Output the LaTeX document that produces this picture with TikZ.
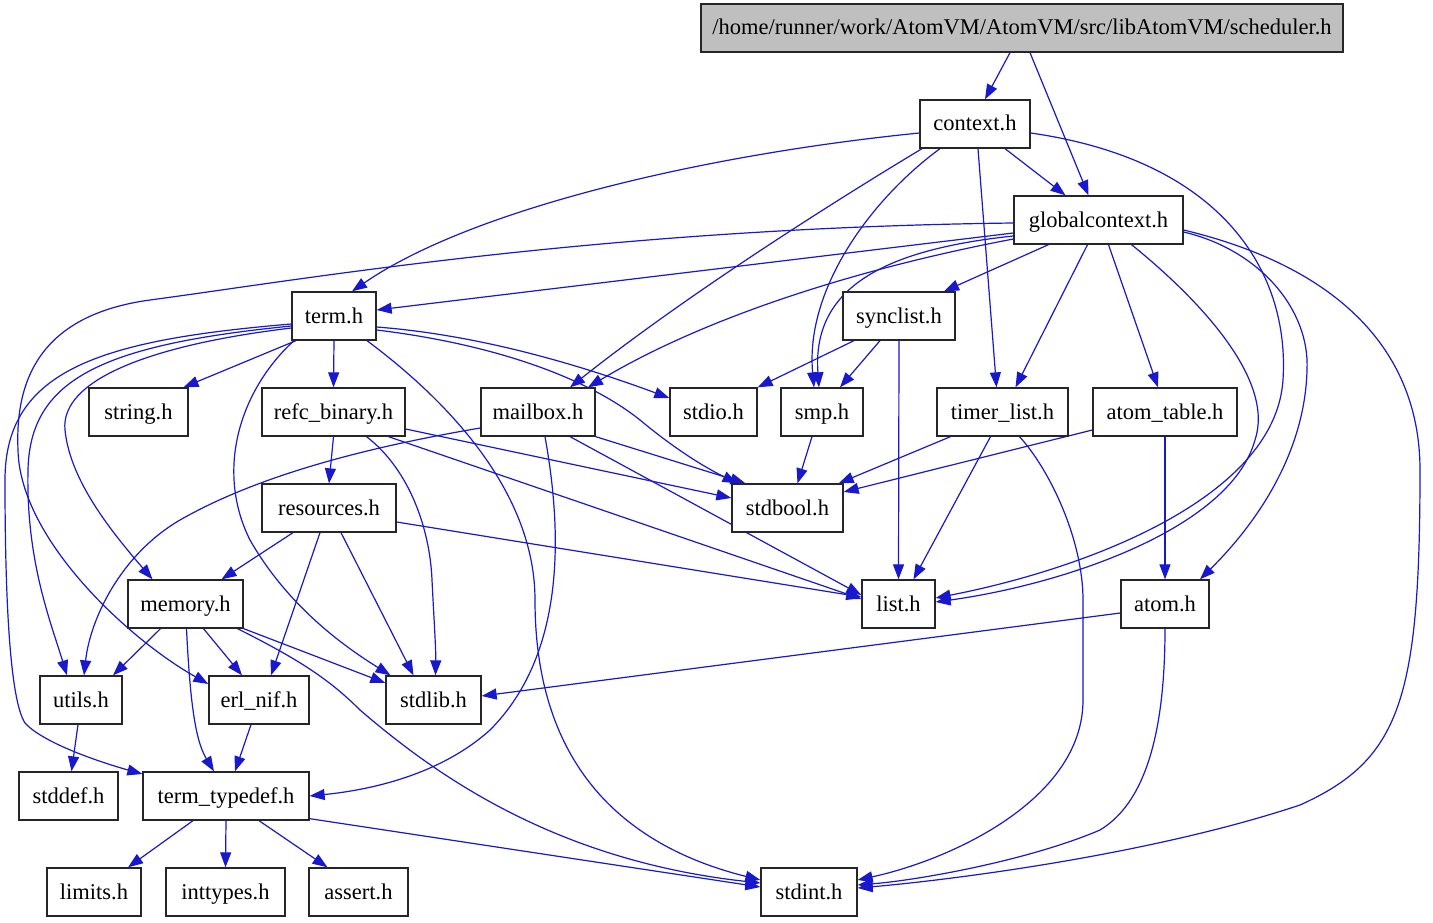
\documentclass[tikz,border=0pt]{standalone}
\usepackage{fontspec}
\setmainfont{Liberation Serif}
\usetikzlibrary{arrows.meta}
\definecolor{edgeblue}{RGB}{24,24,204}
\definecolor{boxgray}{RGB}{191,191,191}
\pgfdeclarelayer{bg}
\pgfsetlayers{bg,main}
\begin{document}
\begin{tikzpicture}[x=1pt,y=-1pt,
  box/.style={draw=black!85, line width=1.3pt, fill=white, minimum height=48pt, inner sep=0pt, text height=19pt, text depth=5pt, font=\fontsize{22.5}{26}\selectfont},
  dep/.style={draw=edgeblue, line width=1.2pt, -{Triangle[length=15pt,width=11pt]}}]
\useasboundingbox (0,0) rectangle (1433,923);
% nodes
\node[box, minimum width=642pt, fill=boxgray] (sched) at (1022,28) {/home/runner/work/AtomVM/AtomVM/src/libAtomVM/scheduler.h};
\node[box, minimum width=110pt] (ctx) at (975,124) {context.h};
\node[box, minimum width=169pt] (gctx) at (1098.5,220) {globalcontext.h};
\node[box, minimum width=84pt] (term) at (334,316) {term.h};
\node[box, minimum width=112pt] (sync) at (899,316) {synclist.h};
\node[box, minimum width=99pt] (string) at (138.5,412) {string.h};
\node[box, minimum width=143pt] (refc) at (333.5,412) {refc\_binary.h};
\node[box, minimum width=114pt] (mbox) at (538,412) {mailbox.h};
\node[box, minimum width=87pt] (stdio) at (713.5,412) {stdio.h};
\node[box, minimum width=82pt] (smp) at (822,412) {smp.h};
\node[box, minimum width=131pt] (timer) at (1002.5,412) {timer\_list.h};
\node[box, minimum width=144pt] (atab) at (1165,412) {atom\_table.h};
\node[box, minimum width=134pt] (res) at (329,508) {resources.h};
\node[box, minimum width=111pt] (stdbool) at (787.5,508) {stdbool.h};
\node[box, minimum width=115pt] (mem) at (185.5,604) {memory.h};
\node[box, minimum width=73pt] (list) at (898.5,604) {list.h};
\node[box, minimum width=88pt] (atom) at (1165,604) {atom.h};
\node[box, minimum width=82pt] (utils) at (81,700) {utils.h};
\node[box, minimum width=100pt] (nif) at (259,700) {erl\_nif.h};
\node[box, minimum width=95pt] (stdlib) at (433.5,700) {stdlib.h};
\node[box, minimum width=99pt] (stddef) at (68.5,796) {stddef.h};
\node[box, minimum width=166pt] (ttd) at (226,796) {term\_typedef.h};
\node[box, minimum width=94pt] (limits) at (94,892) {limits.h};
\node[box, minimum width=119pt] (inttypes) at (225.5,892) {inttypes.h};
\node[box, minimum width=99pt] (assert) at (358.5,892) {assert.h};
\node[box, minimum width=96pt] (stdint) at (809,892) {stdint.h};
\begin{pgfonlayer}{bg}
\fill[white] (0,0) rectangle (1433,923);
% scheduler
\draw[dep] ([shift={(-12,0)}]sched.south) -- ([shift={(10,0)}]ctx.north);
\draw[dep] ([shift={(8,0)}]sched.south) -- ([shift={(-10,0)}]gctx.north);
% context
\draw[dep] ([shift={(30,0)}]ctx.south) -- ([shift={(-33,0)}]gctx.north);
\draw[dep] ([shift={(0,9)}]ctx.west) .. controls (700,155) and (470,210) .. ([shift={(18,0)}]term.north);
\draw[dep] ([shift={(-53,0)}]ctx.south) .. controls (820,210) and (680,300) .. ([shift={(32,0)}]mbox.north);
\draw[dep] ([shift={(-35,0)}]ctx.south) .. controls (870,200) and (805,290) .. ([shift={(-8,0)}]smp.north);
\draw[dep] ([shift={(3,0)}]ctx.south) -- ([shift={(-6,0)}]timer.north);
\draw[dep] ([shift={(0,9)}]ctx.east) .. controls (1220,160) and (1290,270) .. (1283,380) .. controls (1275,500) and (1080,570) .. ([shift={(0,-6)}]list.east);
% globalcontext
\draw[dep] ([shift={(0,13)}]gctx.west) -- ([shift={(0,-6)}]term.east);
\draw[dep] ([shift={(0,3)}]gctx.west) .. controls (600,228) and (300,280) .. (150,300) .. controls (40,315) and (15,380) .. (18,450) .. controls (20,540) and (130,640) .. ([shift={(0,-16)}]nif.west);
\draw[dep] ([shift={(0,19)}]gctx.west) .. controls (850,270) and (700,320) .. ([shift={(50,0)}]mbox.north);
\draw[dep] ([shift={(0,16)}]gctx.west) .. controls (880,250) and (812,290) .. ([shift={(-3,0)}]smp.north);
\draw[dep] ([shift={(-50,0)}]gctx.south) -- ([shift={(45,0)}]sync.north);
\draw[dep] ([shift={(-11,0)}]gctx.south) -- ([shift={(13,0)}]timer.north);
\draw[dep] ([shift={(10,0)}]gctx.south) -- ([shift={(-7,0)}]atab.north);
\draw[dep] ([shift={(33,0)}]gctx.south) .. controls (1200,300) and (1275,380) .. (1255,440) .. controls (1230,530) and (1060,585) .. ([shift={(0,-2)}]list.east);
\draw[dep] ([shift={(0,12)}]gctx.east) .. controls (1260,250) and (1310,310) .. (1307,370) .. controls (1305,450) and (1260,520) .. ([shift={(35,0)}]atom.north);
\draw[dep] ([shift={(0,10)}]gctx.east) .. controls (1350,270) and (1420,360) .. (1420,470) .. controls (1420,700) and (1400,760) .. (1300,805) .. controls (1150,855) and (950,880) .. ([shift={(0,-4)}]stdint.east);
% term
\draw[dep] ([shift={(-38,0)}]term.south) -- ([shift={(45,0)}]string.north);
\draw[dep] (term.south) -- (refc.north);
\draw[dep] ([shift={(0,11)}]term.east) .. controls (480,335) and (580,365) .. ([shift={(0,-14)}]stdio.west);
\draw[dep] ([shift={(0,14)}]term.east) .. controls (500,345) and (590,380) .. (640,420) .. controls (670,445) and (700,465) .. ([shift={(-50,0)}]stdbool.north);
\draw[dep] ([shift={(33,0)}]term.south) .. controls (460,410) and (535,500) .. (535,600) .. controls (535,780) and (640,850) .. ([shift={(0,-12)}]stdint.west);
\draw[dep] ([shift={(-40,0)}]term.south) .. controls (240,390) and (215,470) .. (250,540) .. controls (290,610) and (350,650) .. ([shift={(-43,0)}]stdlib.north);
\draw[dep] ([shift={(0,12)}]term.west) .. controls (150,345) and (60,380) .. (65,430) .. controls (70,480) and (110,530) .. ([shift={(-33,0)}]mem.north);
\draw[dep] ([shift={(0,10)}]term.west) .. controls (100,345) and (30,380) .. (28,470) .. controls (26,560) and (50,620) .. ([shift={(-14,0)}]utils.north);
\draw[dep] ([shift={(0,8)}]term.west) .. controls (100,340) and (5,370) .. (5,480) .. controls (5,600) and (10,700) .. (25,723) .. controls (45,745) and (110,765) .. ([shift={(0,-22)}]ttd.west);
% synclist
\draw[dep] ([shift={(-45,0)}]sync.south) -- (stdio.north east);
\draw[dep] ([shift={(-19,0)}]sync.south) -- ([shift={(18,0)}]smp.north);
\draw[dep] (sync.south) -- (list.north);
% refc_binary
\draw[dep] (refc.south) -- (res.north);
\draw[dep] ([shift={(33,0)}]refc.south) .. controls (410,470) and (430,530) .. (432,580) .. controls (434,620) and (436,650) .. ([shift={(2,0)}]stdlib.north);
\draw[dep] ([shift={(0,17)}]refc.east) -- ([shift={(0,-10)}]stdbool.west);
\draw[dep] ([shift={(55,0)}]refc.south) -- ([shift={(0,-5)}]list.west);
% mailbox
\draw[dep] ([shift={(0,16)}]mbox.west) .. controls (350,450) and (250,480) .. (180,520) .. controls (120,555) and (90,620) .. ([shift={(3,0)}]utils.north);
\draw[dep] (mbox.south east) -- ([shift={(-42,0)}]stdbool.north);
\draw[dep] ([shift={(32,0)}]mbox.south) -- ([shift={(0,-9)}]list.west);
\draw[dep] ([shift={(7,0)}]mbox.south) .. controls (560,520) and (570,650) .. (490,730) .. controls (440,775) and (370,790) .. (ttd.east);
% smp, timer_list, atom_table
\draw[dep] ([shift={(-10,0)}]smp.south) -- ([shift={(10,0)}]stdbool.north);
\draw[dep] ([shift={(-52,0)}]timer.south) -- ([shift={(-5,0)}]stdbool.north east);
\draw[dep] ([shift={(-12,0)}]timer.south) -- ([shift={(15,0)}]list.north);
\draw[dep] ([shift={(17,0)}]timer.south) .. controls (1050,470) and (1083,540) .. (1083,600) -- (1083,700) .. controls (1083,800) and (950,860) .. ([shift={(0,-12)}]stdint.east);
\draw[dep] ([shift={(0,18)}]atab.west) -- ([shift={(0,-16)}]stdbool.east);
\draw[dep] (atab.south) -- (atom.north);
% resources
\draw[dep] ([shift={(-36,0)}]res.south) -- ([shift={(36,0)}]mem.north);
\draw[dep] ([shift={(-9,0)}]res.south) -- ([shift={(12,0)}]nif.north);
\draw[dep] ([shift={(12,0)}]res.south) -- ([shift={(-20,0)}]stdlib.north);
\draw[dep] ([shift={(0,14)}]res.east) -- ([shift={(0,-7)}]list.west);
% memory
\draw[dep] ([shift={(-25,0)}]mem.south) -- ([shift={(32,0)}]utils.north);
\draw[dep] ([shift={(18,0)}]mem.south) -- ([shift={(-17,0)}]nif.north);
\draw[dep] (mem.south east) -- ([shift={(0,-17)}]stdlib.west);
\draw[dep] ([shift={(1,0)}]mem.south) .. controls (190,700) and (195,740) .. ([shift={(-12,0)}]ttd.north);
\draw[dep] ([shift={(52,0)}]mem.south) .. controls (300,660) and (330,680) .. (360,710) .. controls (430,770) and (550,860) .. ([shift={(0,-9)}]stdint.west);
% atom
\draw[dep] ([shift={(0,9)}]atom.west) -- ([shift={(0,-4)}]stdlib.east);
\draw[dep] (atom.south) .. controls (1165,720) and (1150,800) .. (1100,830) .. controls (1030,860) and (920,880) .. ([shift={(0,-7)}]stdint.east);
% utils, erl_nif
\draw[dep] ([shift={(-3,0)}]utils.south) -- ([shift={(3,0)}]stddef.north);
\draw[dep] ([shift={(-8,0)}]nif.south) -- ([shift={(9,0)}]ttd.north);
% term_typedef
\draw[dep] ([shift={(-33,0)}]ttd.south) -- ([shift={(34,0)}]limits.north);
\draw[dep] (ttd.south) -- (inttypes.north);
\draw[dep] ([shift={(33,0)}]ttd.south) -- ([shift={(-31,0)}]assert.north);
\draw[dep] ([shift={(0,-2)}]ttd.south east) -- ([shift={(0,-5)}]stdint.west);
\end{pgfonlayer}
\end{tikzpicture}
\end{document}
